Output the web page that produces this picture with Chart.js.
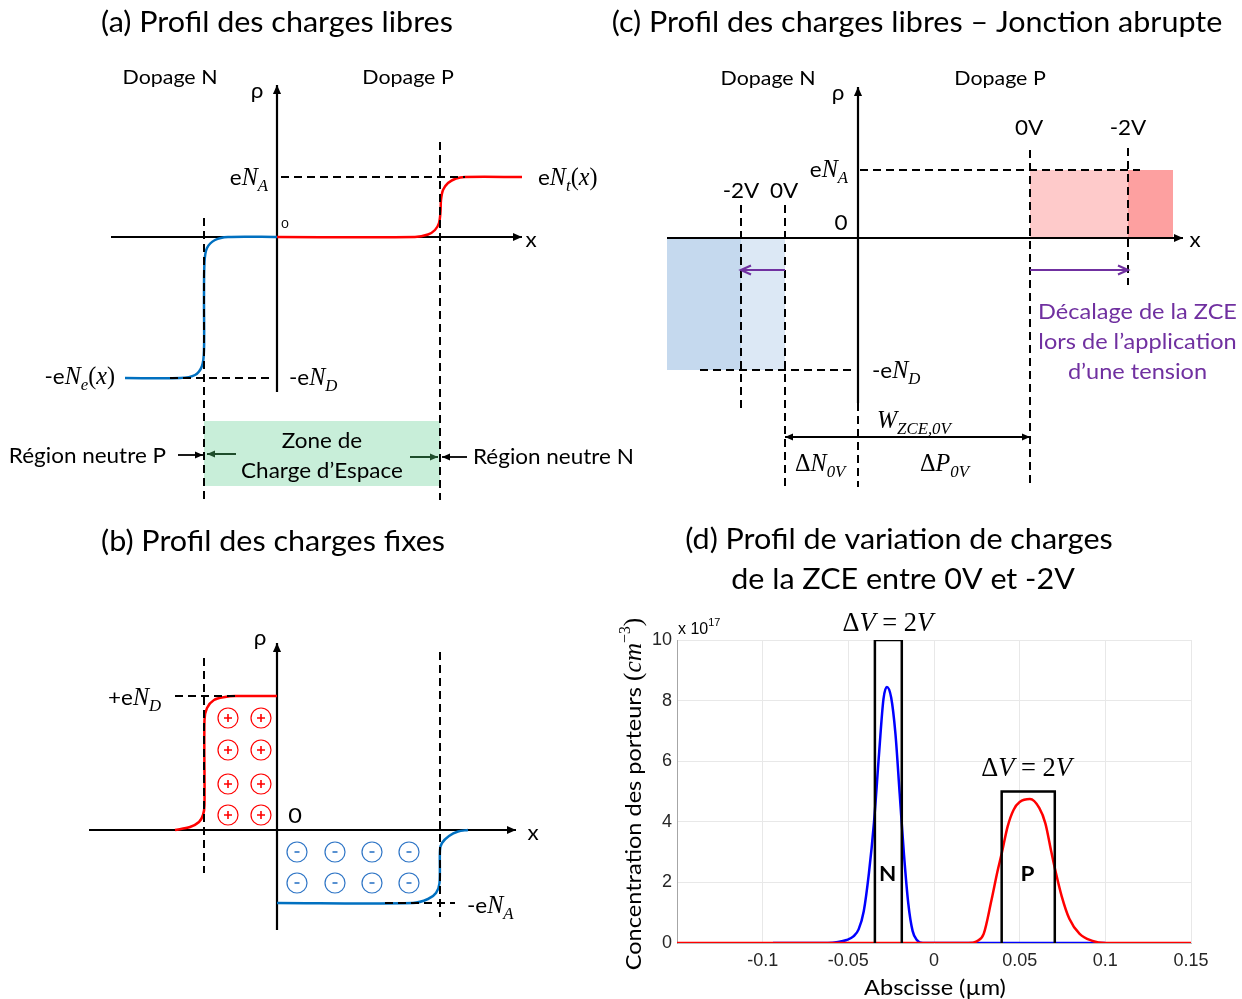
<!DOCTYPE html>
<html lang="fr">
<head>
<meta charset="UTF-8">
<meta name="viewport" content="width=device-width, initial-scale=1.0">
<title>Jonction PN – profils de charges</title>
<script src="https://cdn.jsdelivr.net/npm/chart.js"></script>
<style>
  html, body { margin: 0; background: #fff; }
  #page { position: relative; width: 1242px; height: 999px; overflow: hidden; }
  canvas { position: absolute; }
  #graphA { left: 0; top: 0; }
  #graphC { left: 600px; top: 0; }
  #graphB { left: 0; top: 500px; }
  #graphD { left: 600px; top: 500px; }
</style>
</head>
<body>
<div id="page">
  <canvas id="graphB" width="640" height="499"></canvas>
  <canvas id="graphD" width="642" height="499"></canvas>
  <canvas id="graphA" width="640" height="510"></canvas>
  <canvas id="graphC" width="642" height="510"></canvas>
</div>

<script>
    // Schemas (a), (b), (c) : unite arbitraire, origine au croisement des axes
    // ----- (a) charges libres -----
    var xTrousA = [0, 13.8, 15.1, 15.8, 16.2, 16.35, 16.4, 16.6, 17.1, 17.9, 18.8, 24.5];
    var yTrousA = [0, 0, 0.25, 0.7, 1.4, 2.5, 3.7, 4.7, 5.4, 5.85, 6.0, 6.0];
    var xElectronsA = [0, -4.9, -6.2, -7.0, -7.25, -7.3, -7.3, -7.5, -8.2, -9.7, -15.2];
    var yElectronsA = [0, 0, -0.3, -1.1, -2.5, -6.3, -11.3, -12.9, -13.8, -14.1, -14.1];
    var zceA = [-7.3, 16.3];            // bords de la ZCE
    var bandeZceA = [-18.4, -24.9];     // haut / bas du cadre vert
    var pointillesA = [                 // [x1, y1, x2, y2]
        [-7.3, 1.9, -7.3, -26.3],
        [16.3, 9.5, 16.3, -26.3],
        [0.4, 6.0, 18.8, 6.0],
        [-10.7, -14.1, -0.5, -14.1]
    ];

    // ----- (b) charges fixes -----
    var xDonneursB = [-10.2, -8.7, -7.8, -7.4, -7.25, -7.25, -7.0, -6.3, -5.2, -4.2, 0];
    var yDonneursB = [0, 0.3, 0.8, 1.5, 2.5, 11, 12.2, 13, 13.3, 13.4, 13.4];
    var xAccepteursB = [0, 13.6, 15.1, 15.9, 16.25, 16.3, 16.5, 17.2, 18.1, 19.1];
    var yAccepteursB = [-7.3, -7.3, -6.9, -6.3, -5.3, -2.0, -1.3, -0.6, -0.15, 0];
    var ionsPlusX = [-4.9, -1.6];
    var ionsPlusY = [11.2, 8.0, 4.6, 1.5];
    var ionsMoinsX = [2.0, 5.8, 9.5, 13.2];
    var ionsMoinsY = [-2.2, -5.3];
    var pointillesB = [
        [-7.3, 17.2, -7.3, -4.3],
        [16.3, 17.8, 16.3, -8.7],
        [-10.2, 13.4, -4.2, 13.4],
        [10.8, -7.3, 17.8, -7.3]
    ];

    // ----- (c) jonction abrupte -----
    var limitesN_C = [-19.1, -11.7, -7.3];   // bord, -2V, 0V
    var limitesP_C = [17.2, 27.0, 31.5];     // 0V, -2V, bord
    var niveauND_C = -13.2;
    var niveauNA_C = 6.8;
    var pointillesC = [
        [-11.7, 3.3, -11.7, -17.2],
        [-7.3, 3.3, -7.3, -24.9],
        [17.2, 8.8, 17.2, -24.9],
        [27.0, 9.0, 27.0, -4.7],
        [0.2, 6.8, 28.2, 6.8],
        [-15.8, -13.2, -0.3, -13.2],
        [0, -16.5, 0, -24.9]
    ];

    // ----- (d) variation de charges (x 1e17 cm-3) -----
    var abscisseN = [-0.094, -0.062, -0.056, -0.051, -0.047, -0.044, -0.041, -0.038, -0.035, -0.032, -0.0295,
                     -0.0275, -0.025, -0.0225, -0.02, -0.0175, -0.015, -0.0125, -0.01, -0.0065, 0.1];
    var concN = [0, 0, 0.03, 0.1, 0.22, 0.45, 1.05, 2.3, 4.0, 6.3, 8.05,
                 8.45, 8.1, 6.9, 4.9, 2.9, 1.3, 0.4, 0.1, 0, 0];
    var abscisseP = [-0.15, 0.02, 0.025, 0.029, 0.0335, 0.037, 0.0395, 0.043, 0.0465, 0.05, 0.056,
                     0.0615, 0.065, 0.0685, 0.071, 0.0745, 0.079, 0.085, 0.092, 0.1, 0.15];
    var concP = [0, 0, 0.06, 0.3, 1.4, 2.35, 2.95, 3.85, 4.4, 4.65, 4.75,
                 4.45, 3.95, 3.0, 2.35, 1.55, 0.8, 0.3, 0.08, 0, 0];
    var boiteN = [-0.0345, -0.0188, 10];
    var boiteP = [0.0395, 0.0705, 5];
    var ticksX = [-0.1, -0.05, 0, 0.05, 0.1, 0.15];
    var ticksY = [0, 2, 4, 6, 8, 10];

    // ----- textes -----
    var SANS = 'Lato, "Open Sans", sans-serif';
    var SERIF = '"Liberation Serif", "DejaVu Serif", serif';
    var HELV = '"Liberation Sans", Arial, sans-serif';
    var ETIRE = 1.07;   // Lato un peu plus etroit que la police d'origine

    function police(style, size) {
        switch (style) {
            case 'i': return { font: 'italic ' + size * 1.15 + 'px ' + SERIF, dy: 0, sx: 1 };
            case 'm': return { font: size * 1.15 + 'px ' + SERIF, dy: 0, sx: 1 };
            case 'sub': return { font: 'italic ' + size * 0.8 + 'px ' + SERIF, dy: size * 0.32, sx: 1 };
            case 'sup': return { font: size * 0.72 + 'px ' + SERIF, dy: -size * 0.5, sx: 1 };
            case 'b': return { font: 'bold ' + size + 'px ' + SANS, dy: 0, sx: ETIRE };
            case 'h': return { font: size + 'px ' + HELV, dy: 0, sx: 1 };
            case 'hsup': return { font: size * 0.68 + 'px ' + HELV, dy: -size * 0.5, sx: 1 };
            default: return { font: size + 'px ' + SANS, dy: 0, sx: ETIRE };
        }
    }

    function ecrire(ctx, t, x, y) {
        var size = t.size || 21;
        var morceaux = t.runs.map(function (r) {
            var p = police(r[1], size);
            p.txt = r[0];
            return p;
        });
        var total = 0;
        morceaux.forEach(function (p) {
            ctx.font = p.font;
            p.w = ctx.measureText(p.txt).width * p.sx;
            total += p.w;
        });
        ctx.save();
        ctx.translate(x, y);
        if (t.rot) ctx.rotate(t.rot);
        var cx = t.align === 'right' ? -total : (t.align === 'left' ? 0 : -total / 2);
        ctx.fillStyle = t.color || '#000';
        ctx.textAlign = 'left';
        ctx.textBaseline = 'alphabetic';
        morceaux.forEach(function (p) {
            ctx.save();
            ctx.font = p.font;
            ctx.translate(cx, size * 0.36 + p.dy);
            ctx.scale(p.sx, 1);
            ctx.fillText(p.txt, 0, 0);
            ctx.restore();
            cx += p.w;
        });
        ctx.restore();
    }

    function pointe(ctx, p1, p2, style, L) {
        var ang = Math.atan2(p2[1] - p1[1], p2[0] - p1[0]);
        var W = L * 0.45;
        ctx.save();
        ctx.translate(p2[0], p2[1]);
        ctx.rotate(ang);
        ctx.beginPath();
        if (style === 'ouvert') {
            ctx.moveTo(-L, -W); ctx.lineTo(0, 0); ctx.lineTo(-L, W);
            ctx.stroke();
        } else {
            ctx.moveTo(0, 0); ctx.lineTo(-L, -W); ctx.lineTo(-L, W);
            ctx.closePath();
            ctx.fill();
        }
        ctx.restore();
    }

    function fleche(ctx, p1, p2, f) {
        ctx.save();
        ctx.strokeStyle = f.c || '#000';
        ctx.fillStyle = f.c || '#000';
        ctx.lineWidth = f.w || 2;
        ctx.setLineDash([]);
        ctx.beginPath();
        ctx.moveTo(p1[0], p1[1]);
        ctx.lineTo(p2[0], p2[1]);
        ctx.stroke();
        pointe(ctx, p1, p2, f.tete, f.L || 8);
        if (f.double) pointe(ctx, p2, p1, f.tete, f.L || 8);
        ctx.restore();
    }

    function versPixel(chart, v) {
        return [chart.scales.x.getPixelForValue(v[0]), chart.scales.y.getPixelForValue(v[1])];
    }

    function decor(spec) {
        return {
            id: 'decor',
            beforeDatasetsDraw: function (chart) {
                (spec.axes || []).forEach(function (a) {
                    fleche(chart.ctx, versPixel(chart, a[0]), versPixel(chart, a[1]), { w: 2.2, L: 9 });
                });
            },
            afterDatasetsDraw: function (chart) {
                var ctx = chart.ctx;
                (spec.fleches || []).forEach(function (f) {
                    fleche(ctx, versPixel(chart, f.de), versPixel(chart, f.a), f);
                });
                (spec.textes || []).forEach(function (t) {
                    var p = t.px ? t.px : versPixel(chart, t.at);
                    ecrire(ctx, t, p[0], p[1]);
                });
            }
        };
    }

    // ----- jeux de donnees -----
    function points(xs, ys) {
        return xs.map(function (x, i) { return { x: x, y: ys[i] }; });
    }

    function courbe(xs, ys, couleur) {
        return { data: points(xs, ys), borderColor: couleur, borderWidth: 2.5, pointRadius: 0, tension: 0.3, fill: false };
    }

    function traits(liste) {
        return liste.map(function (s) {
            return {
                data: [{ x: s[0], y: s[1] }, { x: s[2], y: s[3] }],
                borderColor: '#000', borderWidth: 2, borderDash: [8, 5],
                pointRadius: 0, tension: 0, fill: false
            };
        });
    }

    function bloc(x0, x1, yHaut, yBas, couleur) {
        return {
            data: [{ x: x0, y: yHaut }, { x: x1, y: yHaut }],
            borderWidth: 0, borderColor: 'rgba(0,0,0,0)', backgroundColor: couleur,
            fill: { value: yBas }, pointRadius: 0, tension: 0
        };
    }

    function grille(xs, ys) {
        var p = [];
        ys.forEach(function (y) { xs.forEach(function (x) { p.push({ x: x, y: y }); }); });
        return p;
    }

    function ions(xs, ys, couleur, signe, r) {
        return [
            { data: grille(xs, ys), showLine: false, pointStyle: 'circle', pointRadius: 10,
              pointBorderColor: couleur, pointBackgroundColor: 'rgba(0,0,0,0)', pointBorderWidth: 1.2 },
            { data: grille(xs, ys), showLine: false, pointStyle: signe, pointRadius: r,
              pointBorderColor: couleur, pointBackgroundColor: couleur, pointBorderWidth: 1.6 }
        ];
    }

    function optionsSchema(lx, ly) {
        return {
            responsive: false,
            animation: false,
            events: [],
            layout: { padding: 0, autoPadding: false },
            plugins: { legend: { display: false }, tooltip: { enabled: false }, filler: { drawTime: 'beforeDraw' } },
            scales: {
                x: { type: 'linear', display: false, min: lx[0], max: lx[1] },
                y: { type: 'linear', display: false, min: ly[0], max: ly[1] }
            }
        };
    }

    var eNA = [['e'], ['N', 'i'], ['A', 'sub']];
    var meND = [['-e'], ['N', 'i'], ['D', 'sub']];

    // ----- (a) -----
    new Chart(document.getElementById('graphA'), {
        type: 'line',
        data: {
            datasets: traits(pointillesA).concat([
                courbe(xTrousA, yTrousA, '#ff0000'),
                courbe(xElectronsA, yElectronsA, '#0070c0'),
                bloc(zceA[0], zceA[1], bandeZceA[0], bandeZceA[1], '#c8eed9')
            ])
        },
        options: optionsSchema([-27.7, 36.3], [-27.3, 23.7]),
        plugins: [decor({
            axes: [[[-16.6, 0], [24.5, 0]], [[0, -15.5], [0, 15.2]]],
            fleches: [
                { de: [-9.9, -21.8], a: [-7.4, -21.8], c: '#000', w: 1.8 },
                { de: [-4.1, -21.7], a: [-7.0, -21.7], c: '#1e4d2b', w: 2 },
                { de: [13.3, -22.0], a: [16.1, -22.0], c: '#1e4d2b', w: 2 },
                { de: [19.0, -22.0], a: [16.5, -22.0], c: '#000', w: 1.8 }
            ],
            textes: [
                { at: [0, 21.5], runs: [['(a) Profil des charges libres']], size: 28.5 },
                { at: [-10.7, 16], runs: [['Dopage N']], size: 20 },
                { at: [13.1, 16], runs: [['Dopage P']], size: 20 },
                { at: [-2.0, 14.7], runs: [['ρ']], size: 21 },
                { at: [25.4, -0.2], runs: [['x']], size: 21 },
                { at: [0.8, 1.3], runs: [['0']], size: 12 },
                { at: [-0.9, 6.0], runs: eNA, align: 'right' },
                { at: [26.1, 6.0], runs: [['e'], ['N', 'i'], ['t', 'sub'], ['(', 'm'], ['x', 'i'], [')', 'm']], align: 'left' },
                { at: [-16.2, -13.9], runs: [['-e'], ['N', 'i'], ['e', 'sub'], ['(', 'm'], ['x', 'i'], [')', 'm']], align: 'right' },
                { at: [1.2, -14.0], runs: meND, align: 'left' },
                { at: [4.5, -20.3], runs: [['Zone de']] },
                { at: [4.5, -23.3], runs: [['Charge d’Espace']] },
                { at: [-11.1, -21.8], runs: [['Région neutre P']], align: 'right' },
                { at: [19.6, -21.9], runs: [['Région neutre N']], align: 'left' }
            ]
        })]
    });

    // ----- (b) -----
    new Chart(document.getElementById('graphB'), {
        type: 'line',
        data: {
            datasets: traits(pointillesB).concat([
                courbe(xDonneursB, yDonneursB, '#ff0000'),
                courbe(xAccepteursB, yAccepteursB, '#0070c0')
            ], ions(ionsPlusX, ionsPlusY, '#ff0000', 'cross', 4),
               ions(ionsMoinsX, ionsMoinsY, '#2e75c6', 'line', 2.5))
        },
        options: optionsSchema([-27.7, 36.3], [-16.9, 33.0]),
        plugins: [decor({
            axes: [[[-18.8, 0], [23.9, 0]], [[0, -10], [0, 18.7]]],
            textes: [
                { at: [-0.4, 28.9], runs: [['(b) Profil des charges fixes']], size: 28.5 },
                { at: [-1.7, 19.3], runs: [['ρ']] },
                { at: [25.6, -0.2], runs: [['x']] },
                { at: [1.8, 1.5], runs: [['0']], size: 22 },
                { at: [-16.9, 13.3], runs: [['+e'], ['N', 'i'], ['D', 'sub']], align: 'left' },
                { at: [19.0, -7.5], runs: [['-e'], ['N', 'i'], ['A', 'sub']], align: 'left' }
            ]
        })]
    });

    // ----- (c) -----
    new Chart(document.getElementById('graphC'), {
        type: 'line',
        data: {
            datasets: traits(pointillesC).concat([
                bloc(limitesN_C[0], limitesN_C[1], niveauND_C, 0, '#c5d9ee'),
                bloc(limitesN_C[1], limitesN_C[2], niveauND_C, 0, '#dce8f5'),
                bloc(limitesP_C[0], limitesP_C[1], niveauNA_C, 0, '#fecaca'),
                bloc(limitesP_C[1], limitesP_C[2], niveauNA_C, 0, '#fda0a0')
            ])
        },
        options: optionsSchema([-25.8, 38.4], [-27.2, 23.8]),
        plugins: [decor({
            axes: [[[-19.1, 0], [32.5, 0]], [[0, -16.5], [0, 15.1]]],
            fleches: [
                { de: [limitesN_C[2], -3.2], a: [limitesN_C[1], -3.2], c: '#7030a0', w: 2.2, tete: 'ouvert', L: 10 },
                { de: [limitesP_C[0], -3.2], a: [limitesP_C[1], -3.2], c: '#7030a0', w: 2.2, tete: 'ouvert', L: 10 },
                { de: [limitesN_C[2], -19.9], a: [limitesP_C[0], -19.9], c: '#000', w: 2, L: 8, double: true }
            ],
            textes: [
                { at: [5.9, 21.6], runs: [['(c) Profil des charges libres – Jonction abrupte']], size: 28.5 },
                { at: [-9.0, 16.0], runs: [['Dopage N']], size: 20 },
                { at: [14.2, 16.0], runs: [['Dopage P']], size: 20 },
                { at: [-2.0, 14.6], runs: [['ρ']] },
                { at: [33.7, -0.1], runs: [['x']] },
                { at: [-11.7, 4.8], runs: [['-2V']] },
                { at: [-7.4, 4.8], runs: [['0V']] },
                { at: [17.1, 11.1], runs: [['0V']] },
                { at: [27.0, 11.1], runs: [['-2V']] },
                { at: [-1.7, 1.6], runs: [['0']] },
                { at: [-1.0, 6.9], runs: eNA, align: 'right' },
                { at: [1.4, -13.2], runs: meND, align: 'left' },
                { at: [1.9, -18.2], runs: [['W', 'i'], ['ZCE,0V', 'sub']], align: 'left' },
                { at: [-6.3, -22.5], runs: [['Δ', 'm'], ['N', 'i'], ['0V', 'sub']], align: 'left' },
                { at: [6.2, -22.5], runs: [['Δ', 'm'], ['P', 'i'], ['0V', 'sub']], align: 'left' },
                { at: [27.95, -7.3], runs: [['Décalage de la ZCE']], size: 22, color: '#7030a0' },
                { at: [27.95, -10.3], runs: [['lors de l’application']], size: 22, color: '#7030a0' },
                { at: [27.95, -13.3], runs: [['d’une tension']], size: 22, color: '#7030a0' }
            ]
        })]
    });

    // ----- (d) -----
    function boite(b) {
        return {
            data: [{ x: b[0], y: 0 }, { x: b[0], y: b[2] }, { x: b[1], y: b[2] }, { x: b[1], y: 0 }],
            borderColor: '#000', borderWidth: 2.5, pointRadius: 0, tension: 0, fill: false
        };
    }

    function courbeD(xs, ys, couleur) {
        return { data: points(xs, ys), borderColor: couleur, borderWidth: 2.5, pointRadius: 0,
                 cubicInterpolationMode: 'monotone', fill: false };
    }

    var policeTicks = { family: HELV, size: 18 };

    new Chart(document.getElementById('graphD'), {
        type: 'line',
        data: {
            datasets: [
                boite(boiteN),
                boite(boiteP),
                courbeD(abscisseP, concP, '#ff0000'),
                courbeD(abscisseN, concN, '#0000ff')
            ]
        },
        options: {
            responsive: false,
            animation: false,
            events: [],
            layout: { padding: { left: 0, right: 51, top: 140, bottom: 0 }, autoPadding: false },
            plugins: { legend: { display: false }, tooltip: { enabled: false } },
            scales: {
                x: {
                    type: 'linear', min: -0.15, max: 0.15,
                    afterBuildTicks: function (s) { s.ticks = ticksX.map(function (v) { return { value: v }; }); },
                    afterFit: function (s) { s.height = 56; },
                    grid: { color: '#e8e8e8', drawTicks: false },
                    border: { color: '#bdbdbd' },
                    ticks: { padding: 7, maxRotation: 0, autoSkip: false, color: '#262626', font: policeTicks,
                             callback: function (v) { return String(+v.toFixed(2)); } }
                },
                y: {
                    type: 'linear', min: 0, max: 10,
                    afterBuildTicks: function (s) { s.ticks = ticksY.map(function (v) { return { value: v }; }); },
                    afterFit: function (s) { s.width = 77; },
                    grid: { color: '#e8e8e8', drawTicks: false },
                    border: { color: '#a6a6a6' },
                    ticks: { padding: 5, autoSkip: false, color: '#262626', font: policeTicks }
                }
            }
        },
        plugins: [decor({
            textes: [
                { px: [299, 39], runs: [['(d) Profil de variation de charges']], size: 28.5 },
                { px: [303, 79], runs: [['de la ZCE entre 0V et -2V']], size: 28.5 },
                { px: [33, 294], rot: -Math.PI / 2, size: 22,
                  runs: [['Concentration des porteurs '], ['(', 'm'], ['cm', 'i'], ['−3', 'sup'], [')', 'm']] },
                { px: [335, 487], runs: [['Abscisse (µm)']], size: 22 },
                { px: [78, 128], runs: [['x 10', 'h'], ['17', 'hsup']], size: 16, align: 'left' },
                { at: [-0.027, 10.56], runs: [['Δ', 'm'], ['V', 'i'], [' = 2', 'm'], ['V', 'i']], size: 23 },
                { at: [0.054, 5.78], runs: [['Δ', 'm'], ['V', 'i'], [' = 2', 'm'], ['V', 'i']], size: 23 },
                { at: [-0.027, 2.31], runs: [['N', 'b']] },
                { at: [0.0545, 2.31], runs: [['P', 'b']] }
            ]
        })]
    });
</script>
</body>
</html>
